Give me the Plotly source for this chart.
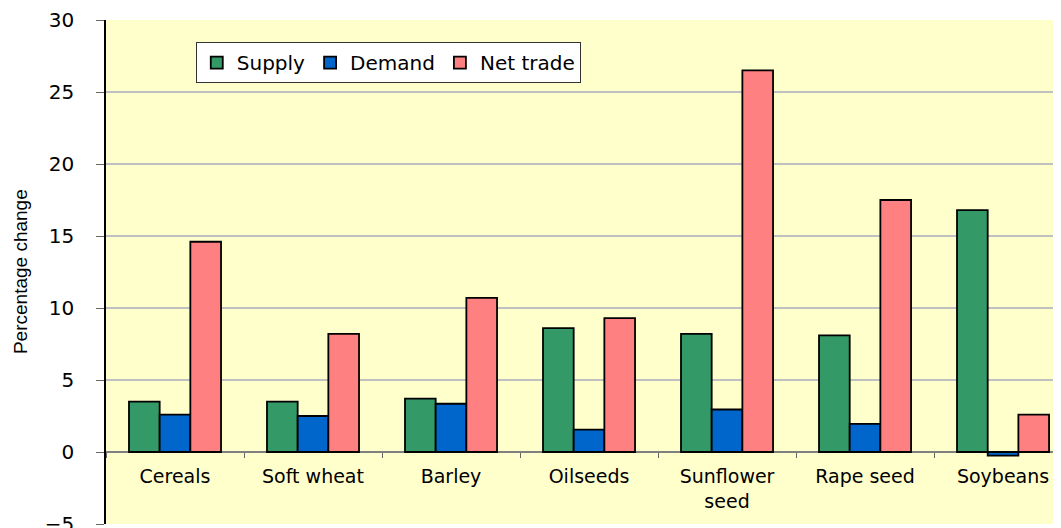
import plotly.graph_objects as go

categories = ["Cereals", "Soft wheat", "Barley", "Oilseeds", "Sunflower<br>seed", "Rape seed", "Soybeans"]
supply = [3.5, 3.5, 3.7, 8.6, 8.2, 8.1, 16.8]
demand = [2.6, 2.5, 3.35, 1.55, 2.95, 1.95, -0.25]
net_trade = [14.6, 8.2, 10.7, 9.3, 26.5, 17.5, 2.6]
y_ticks = [-5, 0, 5, 10, 15, 20, 25, 30]

series = [("Supply", supply, "#339966"), ("Demand", demand, "#0066CC"), ("Net trade", net_trade, "#FF8080")]

fig = go.Figure()
for name, vals, col in series:
    fig.add_trace(go.Bar(x=categories, y=vals, name=name, marker=dict(color=col, line=dict(color="black", width=1.8))))

font = "DejaVu Sans, Verdana, sans-serif"
# page body has an 8px default margin, so the figure is sized/positioned to compensate
fig.update_layout(
    width=1053, height=520,
    margin=dict(l=98, r=0, t=12, b=4, autoexpand=False),
    paper_bgcolor="white", plot_bgcolor="#FFFFCC",
    barmode="group", bargap=0.333, bargroupgap=0,
    font=dict(family=font, color="black"),
    showlegend=True,
    legend=dict(orientation="h", x=0.094, y=0.956, xanchor="left", yanchor="top",
                bgcolor="white", bordercolor="#333333", borderwidth=1,
                font=dict(size=20, family=font), itemwidth=30, traceorder="normal"),
    xaxis=dict(range=[-0.5, 6.42], anchor="free", position=5/35, tickson="boundaries",
               ticks="outside", ticklen=5, tickcolor="#666666", showline=False, automargin=False,
               showgrid=False, tickfont=dict(size=19, family=font), ticklabelstandoff=11, fixedrange=True),
    yaxis=dict(range=[-5, 30], tickvals=y_ticks, showgrid=True, gridcolor="#C0C0C0", gridwidth=1.5,
               zeroline=True, zerolinecolor="#808080", zerolinewidth=1.5, automargin=False,
               showline=True, linecolor="black", linewidth=1.5, ticks="outside", ticklen=8,
               tickcolor="#666666", tickfont=dict(size=20, family=font), ticklabelstandoff=18,
               ticklabeloverflow="allow", fixedrange=True),
    annotations=[dict(text="Percentage change", textangle=-90, xref="paper", yref="paper",
                      x=-0.090, y=0.5, xanchor="center", yanchor="middle", showarrow=False,
                      font=dict(size=19, family="Liberation Sans, Arial, sans-serif"))],
)
fig.write_html("out.html")
